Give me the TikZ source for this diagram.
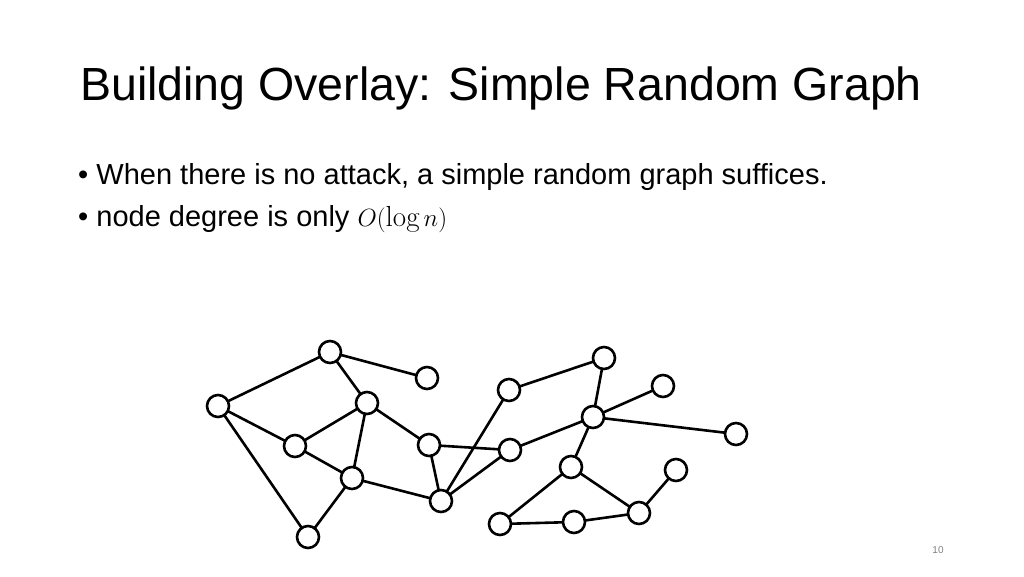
\documentclass[tikz,border=0pt]{standalone}
\usepackage{fontspec}
\setmainfont{Liberation Sans}
\newfontfamily\lmr{Latin Modern Roman}
\begin{document}
\begin{tikzpicture}[x=1pt,y=-1pt,
  v/.style={circle,draw,line width=2.6pt,fill=white,minimum size=22pt,inner sep=0pt},
  e/.style={line width=2.6pt}]
\useasboundingbox (0,0) rectangle (1024,576);
\node[anchor=base west,inner sep=0pt,font=\fontsize{46.5}{52}\selectfont] (title) at (80,100) {Building Overlay: Simple Random Graph};
\node[anchor=base west,inner sep=0pt,font=\fontsize{29}{34}\selectfont] (b1) at (78,184) {• When there is no attack, a simple random graph suffices.};
\node[anchor=base west,inner sep=0pt,font=\fontsize{29}{34}\selectfont] (b2) at (78,226) {• node degree is only $O(${\lmr log}$\,n)$};
\node[font=\fontsize{10}{12}\selectfont,text=gray] (pg) at (938,550) {10};
\foreach \n/\x/\y in {A/218/406,B/330/352,C/427/378,D/367/403,E/295/446,F/352/478,G/429/445,H/441/501,I/308/537,J/509/390,K/604/358,L/510/450,M/593/417,N/663/386,O/736/434,P/571/467,Q/676/470,R/639/513,S/574/522,T/500/524}
  \coordinate (\n) at (\x,\y);
\foreach \a/\b in {A/B,A/E,A/I,B/C,B/D,D/E,D/F,D/G,E/F,F/I,F/H,G/H,G/L,H/J,H/L,J/K,K/M,M/N,M/O,M/L,M/P,P/T,P/R,T/S,S/R,R/Q}
  \draw[e] (\a) -- (\b);
\foreach \n in {A,B,C,D,E,F,G,H,I,J,K,L,M,N,O,P,Q,R,S,T}
  \node[v] (n\n) at (\n) {};
\end{tikzpicture}
\end{document}
